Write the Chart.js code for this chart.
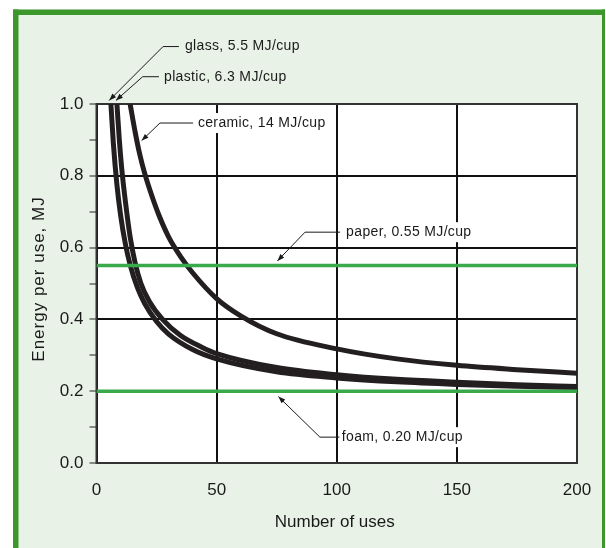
<!DOCTYPE html>
<html>
<head>
<meta charset="utf-8">
<script src="https://cdn.jsdelivr.net/npm/chart.js@4.4.1/dist/chart.umd.min.js"></script>
<style>
html,body{margin:0;padding:0;background:#fff;}
canvas{display:block;}
</style>
</head>
<body>
<canvas id="c" width="606" height="548"></canvas>
<script>
// ---- data ----
const glassUses   = [6, 7, 8.5, 10, 12, 14, 17, 20, 25, 30, 40, 50, 75, 100, 125, 150, 175, 200];
const glassEnergy = [1.0, 0.892, 0.775, 0.692, 0.611, 0.552, 0.489, 0.445, 0.394, 0.359, 0.316, 0.29, 0.254, 0.237, 0.226, 0.219, 0.214, 0.21];

const plasticUses   = [8.5, 9.5, 10.5, 12, 14, 16, 18.5, 22, 27.5, 35, 44, 50, 75, 100, 125, 150, 175, 200];
const plasticEnergy = [1.0, 0.9, 0.82, 0.73, 0.63, 0.56, 0.5, 0.45, 0.4, 0.355, 0.322, 0.305, 0.266, 0.246, 0.233, 0.225, 0.218, 0.213];

const ceramicUses   = [14, 16, 18, 20, 23, 26, 30, 35, 40, 50, 60, 75, 100, 125, 150, 175, 200];
const ceramicEnergy = [1.0, 0.925, 0.86, 0.808, 0.745, 0.69, 0.63, 0.575, 0.53, 0.458, 0.41, 0.36, 0.318, 0.29, 0.272, 0.26, 0.25];

const flatUses    = [0, 200];
const paperEnergy = [0.55, 0.55];
const foamEnergy  = [0.20, 0.20];

const yTickLabels = ['0.0', '', '0.2', '', '0.4', '', '0.6', '', '0.8', '', '1.0'];
const xTickLabels = ['0', '50', '100', '150', '200'];

const xTitle = 'Number of uses';
const yTitle = 'Energy per use, MJ';

// annotation labels: text, text anchor (uses, energy), elbow, tip
const notes = [
  {text: 'glass, 5.5 MJ/cup',   at: [36.8, 1.16],  end: [34.3, 1.16],  elbow: [27.7, 1.16],  tip: [5.3, 1.01]},
  {text: 'plastic, 6.3 MJ/cup', at: [28.1, 1.076], end: [26.0, 1.076], elbow: [19.2, 1.076], tip: [8.1, 1.01]},
  {text: 'ceramic, 14 MJ/cup',  at: [42.2, 0.947], end: [40.2, 0.947], elbow: [26.4, 0.947], tip: [18.8, 0.898]},
  {text: 'paper, 0.55 MJ/cup',  at: [103.9, 0.643], end: [101.4, 0.643], elbow: [86.8, 0.643], tip: [75.3, 0.563]},
  {text: 'foam, 0.20 MJ/cup',   at: [102.1, 0.072], end: [101.1, 0.072], elbow: [93.0, 0.072], tip: [75.7, 0.185]}
];

const pts = (xs, ys) => xs.map((x, i) => ({x: x, y: ys[i]}));

const FONT = '"Liberation Sans", Arial, Helvetica, sans-serif';
const GREEN_LINE = '#3aa94a';
const CURVE = '#231f20';

const bgPlugin = {
  id: 'bg',
  beforeDraw(chart) {
    const ctx = chart.ctx;
    const a = chart.chartArea;
    ctx.save();
    ctx.fillStyle = '#ffffff';
    ctx.fillRect(0, 0, chart.width, chart.height);
    ctx.fillStyle = '#e8f2e6';
    ctx.fillRect(13, 9.5, 592, chart.height - 9.5);
    ctx.fillStyle = '#3d982c';
    ctx.fillRect(13, 9.5, 592, 5.5);   // top border
    ctx.fillRect(13, 9.5, 5.5, chart.height); // left border
    ctx.fillRect(602, 9.5, 3, chart.height);  // right border
    ctx.fillStyle = '#ffffff';
    ctx.fillRect(a.left, a.top, a.right - a.left, a.bottom - a.top);
    ctx.restore();
  },
  beforeDatasetsDraw(chart) {
    const ctx = chart.ctx;
    const a = chart.chartArea;
    ctx.save();
    ctx.strokeStyle = '#333333';
    ctx.lineWidth = 2;
    ctx.strokeRect(a.left, a.top, a.right - a.left, a.bottom - a.top);
    // white knock-out boxes behind labels that sit inside the plot
    const xs = chart.scales.x, ys = chart.scales.y;
    ctx.font = '14px ' + FONT;
    try { ctx.letterSpacing = '0.35px'; } catch (e) {}
    ctx.fillStyle = '#ffffff';
    notes.forEach(n => {
      const tx = xs.getPixelForValue(n.at[0]), ty = ys.getPixelForValue(n.at[1]);
      if (ty > a.top + 5) {
        const w = ctx.measureText(n.text).width;
        ctx.fillRect(tx - 3, ty - 10, w + 6, 20);
      }
    });
    ctx.restore();
  },
  afterDraw(chart) {
    const ctx = chart.ctx;
    const xs = chart.scales.x, ys = chart.scales.y;
    const P = (p) => [xs.getPixelForValue(p[0]), ys.getPixelForValue(p[1])];
    ctx.save();
    // annotations
    ctx.font = '14px ' + FONT;
    try { ctx.letterSpacing = '0.35px'; } catch (e) {}
    ctx.fillStyle = '#1a1a1a';
    ctx.textBaseline = 'middle';
    ctx.textAlign = 'left';
    notes.forEach(n => {
      const t = P(n.at), e = P(n.end), b = P(n.elbow), tp = P(n.tip);
      ctx.fillStyle = '#1a1a1a';
      ctx.fillText(n.text, t[0], t[1]);
      ctx.strokeStyle = '#1a1a1a';
      ctx.lineWidth = 1;
      ctx.beginPath();
      ctx.moveTo(e[0], e[1]);
      ctx.lineTo(b[0], b[1]);
      ctx.lineTo(tp[0], tp[1]);
      ctx.stroke();
      const ang = Math.atan2(tp[1] - b[1], tp[0] - b[0]);
      const L = 7, W = 2.6;
      ctx.beginPath();
      ctx.moveTo(tp[0], tp[1]);
      ctx.lineTo(tp[0] - L * Math.cos(ang) + W * Math.sin(ang), tp[1] - L * Math.sin(ang) - W * Math.cos(ang));
      ctx.lineTo(tp[0] - L * Math.cos(ang) - W * Math.sin(ang), tp[1] - L * Math.sin(ang) + W * Math.cos(ang));
      ctx.closePath();
      ctx.fill();
    });
    // axis titles
    ctx.font = '17px ' + FONT;
    try { ctx.letterSpacing = '0px'; } catch (e) {}
    ctx.textAlign = 'center';
    ctx.textBaseline = 'middle';
    ctx.fillStyle = '#1a1a1a';
    ctx.fillText(xTitle, (chart.chartArea.left + chart.chartArea.right) / 2 - 2, 522);
    try { ctx.letterSpacing = '1px'; } catch (e) {}
    ctx.translate(39.5, 279);
    ctx.rotate(-Math.PI / 2);
    ctx.fillText(yTitle, 0, 0);
    ctx.restore();
  }
};

const lineDs = (data, color, width) => ({
  data: data,
  borderColor: color,
  borderWidth: width,
  pointRadius: 0,
  pointHoverRadius: 0,
  fill: false,
  cubicInterpolationMode: 'monotone',
  borderCapStyle: 'butt',
  clip: 0
});

new Chart(document.getElementById('c'), {
  type: 'line',
  data: {
    datasets: [
      lineDs(pts(flatUses, paperEnergy), GREEN_LINE, 3.5),
      lineDs(pts(flatUses, foamEnergy), GREEN_LINE, 3.5),
      lineDs(pts(glassUses, glassEnergy), CURVE, 5),
      lineDs(pts(plasticUses, plasticEnergy), CURVE, 5),
      lineDs(pts(ceramicUses, ceramicEnergy), CURVE, 5)
    ]
  },
  plugins: [bgPlugin],
  options: {
    responsive: false,
    devicePixelRatio: 1,
    animation: false,
    events: [],
    layout: {padding: {left: 0, top: 104, right: 29, bottom: 0}},
    plugins: {legend: {display: false}, tooltip: {enabled: false}, title: {display: false}},
    scales: {
      x: {
        type: 'linear',
        min: 0, max: 200,
        afterFit(s) { s.height = 85; s.paddingLeft = 0; s.paddingRight = 0; },
        border: {display: false},
        grid: {color: '#111111', lineWidth: 2, drawTicks: false},
        ticks: {
          stepSize: 50,
          padding: 17,
          color: '#1a1a1a',
          font: {family: FONT, size: 17},
          maxRotation: 0,
          callback: (v, i) => xTickLabels[i]
        }
      },
      y: {
        type: 'linear',
        min: 0, max: 1,
        afterFit(s) { s.width = 96.5; s.paddingTop = 0; s.paddingBottom = 0; },
        border: {display: false},
        grid: {
          color: (c) => (c.tick && Math.round(c.tick.value * 10) % 2 === 0) ? '#111111' : 'rgba(0,0,0,0)',
          lineWidth: 2,
          tickColor: '#666666',
          tickWidth: 1.5,
          tickLength: 7
        },
        ticks: {
          stepSize: 0.1,
          padding: 6,
          color: '#1a1a1a',
          font: {family: FONT, size: 17},
          callback: (v, i) => yTickLabels[i]
        }
      }
    }
  }
});
</script>
</body>
</html>
